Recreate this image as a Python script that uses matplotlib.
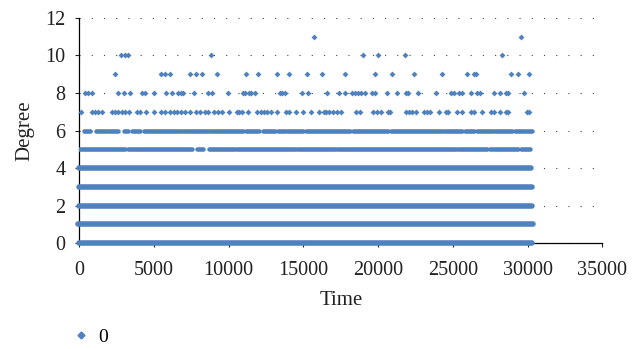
import matplotlib
matplotlib.use("Agg")
import matplotlib.pyplot as plt
from matplotlib.lines import Line2D

# sparse degree levels: individual times
deg11_t = [15706, 29559]
deg10_t = [2791, 3058, 3259, 8813, 18985, 19989, 21796, 28287]
deg9_t = [2389, 5467, 5735, 6070, 7408, 7810, 8211, 9215, 11156, 11959, 13230,
          14033, 15238, 16242, 17781, 19788, 20926, 22398, 24272, 25945, 26413,
          26547, 28889, 29358, 30094]
deg8_t = [381, 582, 850, 2590, 2991, 3393, 4196, 4397, 4999, 5802, 6203, 6605,
          6806, 6940, 7676, 8613, 8880, 9951, 10955, 11089, 11356, 11490, 11758,
          13431, 13565, 13765, 14903, 15305, 16576, 17379, 17781, 18249, 18450,
          18651, 18851, 19119, 19587, 19788, 20591, 21260, 21863, 21997, 22666,
          23870, 24874, 25075, 25410, 25610, 26213, 26614, 26815, 27752, 28153,
          28555, 28689, 29760]
deg7_t = [114, 850, 1051, 1251, 1519, 2188, 2389, 2590, 2858, 3058, 3326, 3861,
          4062, 4464, 4999, 5467, 5735, 6070, 6337, 6538, 6806, 7073, 7408, 7810,
          8077, 8412, 8613, 9014, 9282, 9550, 10018, 10553, 10687, 10888, 11289,
          11892, 12159, 12360, 12561, 12829, 13230, 13832, 14033, 14502, 14970,
          15505, 16041, 16375, 16509, 16710, 16978, 17245, 17513, 18517, 18784,
          19654, 19922, 20190, 20658, 20792, 21863, 22063, 22264, 22532, 23067,
          23268, 23469, 24071, 24540, 24674, 25276, 25610, 26213, 26413, 26949,
          27551, 27752, 28153, 28555, 28689, 29960, 30094]

# dense degree levels: runs of time where the points merge into a band
deg6_start = [294, 1097, 1941, 3011, 3547, 4350, 7027, 8680, 11156, 12313, 13297,
              13879, 15171, 18336, 20859, 24520, 25811, 26614, 27819, 29157, 30007]
deg6_end = [736, 1767, 2570, 3239, 4082, 6853, 8546, 10975, 12046, 13116, 13745,
            14990, 18115, 20678, 24386, 25591, 26434, 27685, 28977, 29873, 30275]
deg5_start = [0, 3279, 7876, 8680, 10573, 14549, 17225, 25323, 27464, 27772, 29559]
deg5_end = [3058, 7562, 8278, 10399, 14455, 17092, 25189, 27283, 27638, 29378, 30181]
low_degrees = [0, 1, 2, 3, 4]
low_start = [0, -80, 0, 0, 0]
low_end = [30270, 30350, 30290, 30270, 30250]

blue = "#4F81BD"

plt.rcParams['font.family'] = ['Liberation Serif', 'DejaVu Serif']
fig = plt.figure(figsize=(6.4, 3.49), dpi=100)
ax = fig.add_axes([0.124, 0.303, 0.817, 0.646])

ax.set_xlim(0, 35000)
ax.set_ylim(0, 12)
ax.set_xticks(range(0, 35001, 5000))
ax.set_yticks(range(0, 13, 2))

ax.yaxis.grid(True, linestyle=(0, (1, 10)), linewidth=0.8, color="#444444")
ax.set_axisbelow(True)

for deg, times in [(11, deg11_t), (10, deg10_t), (9, deg9_t), (8, deg8_t), (7, deg7_t)]:
    ax.scatter(times, [deg] * len(times), marker="D", s=9, color=blue,
               linewidths=0, zorder=3, clip_on=False)

ax.hlines([6] * len(deg6_start), deg6_start, deg6_end, color=blue, linewidth=3.3,
          capstyle="round", zorder=3)
ax.hlines([5] * len(deg5_start), deg5_start, deg5_end, color=blue, linewidth=3.3,
          capstyle="round", zorder=3)
ax.hlines(low_degrees, low_start, low_end, color=blue, linewidth=4.0,
          capstyle="round", zorder=3, clip_on=False)

for s in ["top", "right"]:
    ax.spines[s].set_visible(False)
for s in ["left", "bottom"]:
    ax.spines[s].set_linewidth(0.9)
    ax.spines[s].set_color("black")

ax.tick_params(axis="both", direction="out", length=3, width=0.8,
               labelsize=14.5, colors="#222222")
ax.tick_params(axis="y", pad=7)
ax.tick_params(axis="x", pad=10)

ax.set_xlabel("Time", fontsize=15, color="#222222", labelpad=8)
ax.set_ylabel("Degree", fontsize=15, color="#222222", labelpad=8)

handle = Line2D([], [], marker="D", markersize=3.5, linestyle="none",
                color=blue)
fig.legend(handles=[handle], labels=["0"], loc="center left",
           bbox_to_anchor=(0.093, 0.035), frameon=False, fontsize=14,
           handletextpad=0.4, handlelength=1.0, borderaxespad=0.2)

fig.savefig("out.png", dpi=100)
